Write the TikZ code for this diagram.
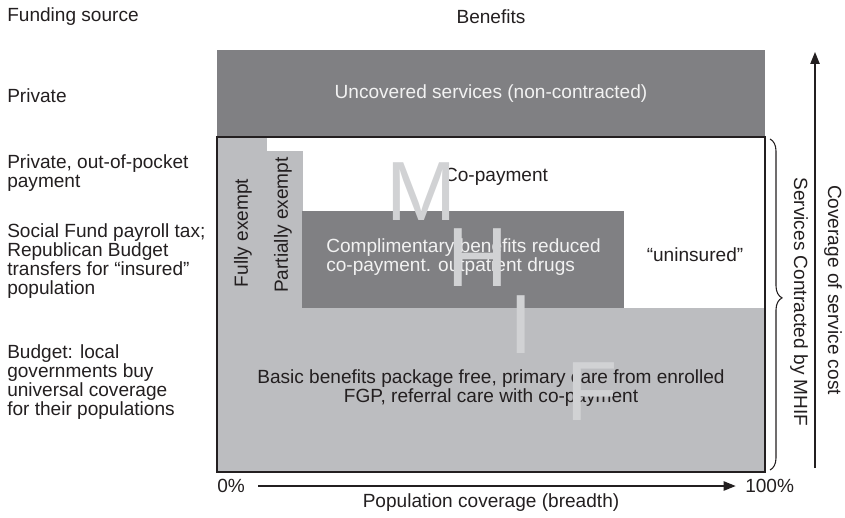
\documentclass[tikz,border=0pt]{standalone}
\usepackage{fontspec}
\setmainfont{Liberation Sans}
\usetikzlibrary{arrows.meta,decorations.pathreplacing}
\definecolor{darkband}{HTML}{808083}
\definecolor{lightband}{HTML}{BCBDC0}
\definecolor{letterband}{HTML}{D1D2D4}
\definecolor{inktext}{HTML}{231F20}

\begin{document}
\begin{tikzpicture}[
    x=0.75pt, y=-0.75pt,
    txt/.style={font=\fontsize{14.3}{14.3}\selectfont, text=inktext, inner sep=0pt},
    source/.style={txt, anchor=west, align=left},
    inbox/.style={txt, align=center},
    ondark/.style={txt, text=white!95!black},
    vert/.style={txt, rotate=90},
    big/.style={font=\fontsize{63}{63}\selectfont, text=letterband, inner sep=0pt},
    axis/.style={-{Triangle[length=9pt, width=7pt]}, line width=1pt, inktext},
]
\useasboundingbox (0,0) rectangle (845,517);

% Benefit bands
\fill[darkband]  (217,50)  rectangle (765,137);
\fill[lightband] (217,308) rectangle (765,472);
\fill[lightband] (217,137) rectangle (267,308);
\fill[lightband] (267,151) rectangle (303,308);
\fill[darkband]  (302,211) rectangle (624,308);
\draw[line width=1.1pt, inktext] (217,137) rectangle (765,472);

% Funding sources
\node[source] (fund)   at (7,17)  {Funding source};
\node[source] (priv)   at (7,96)  {Private};
\node[source] (oop)    at (7,173) {Private, out-of-pocket\\payment};
\node[source] (social) at (7,261) {Social Fund payroll tax;\\Republican Budget\\transfers for “insured”\\population};
\node[source] (budget) at (7,382) {Budget: local\\governments buy\\universal coverage\\for their populations};

% Benefits
\node[txt]    (benefits) at (491,17)  {Benefits};
\node[ondark] (uncov)    at (491,94)  {Uncovered services (non-contracted)};
\node[txt]    (copay)    at (496,177) {Co-payment};
\node[ondark, anchor=west, align=left] (compl) at (326,257) {Complimentary benefits reduced\\co-payment. outpatient drugs};
\node[txt]    (unins)    at (695,255) {“uninsured”};
\node[inbox]  (basic)    at (491,388) {Basic benefits package free, primary care from enrolled\\FGP, referral care with co-payment};
\node[vert]   (fully)    at (243,233) {Fully exempt};
\node[vert]   (partly)   at (283,225) {Partially exempt};

% MHIF letters
\foreach \ch/\cx/\cy in {M/421/192, H/478/258, I/521/325, F/592/392}
    \node[big] (mhif\ch) at (\cx,\cy) {\ch};

% Contracted services
\coordinate (braceTop) at (770,139);
\coordinate (braceBot) at (770,470);
\draw[decorate, decoration={brace, amplitude=9pt, aspect=0.48}, line width=0.8pt, inktext] (braceTop) -- (braceBot);
\node[txt, rotate=-90] (contracted) at (799,302) {Services Contracted by MHIF};

% Depth axis
\coordinate (costLow)  at (815,468);
\coordinate (costHigh) at (815,52);
\draw[axis] (costLow) -- (costHigh);
\node[txt, rotate=-90] (costlabel) at (833,290) {Coverage of service cost};

% Breadth axis
\node[txt, anchor=west] (zero) at (217,486) {0\%};
\node[txt, anchor=west] (full) at (745,486) {100\%};
\draw[axis, shorten <=10pt, shorten >=7pt] (zero) -- (full);
\node[txt] (popcov) at (491,503) {Population coverage (breadth)};
\end{tikzpicture}
\end{document}
